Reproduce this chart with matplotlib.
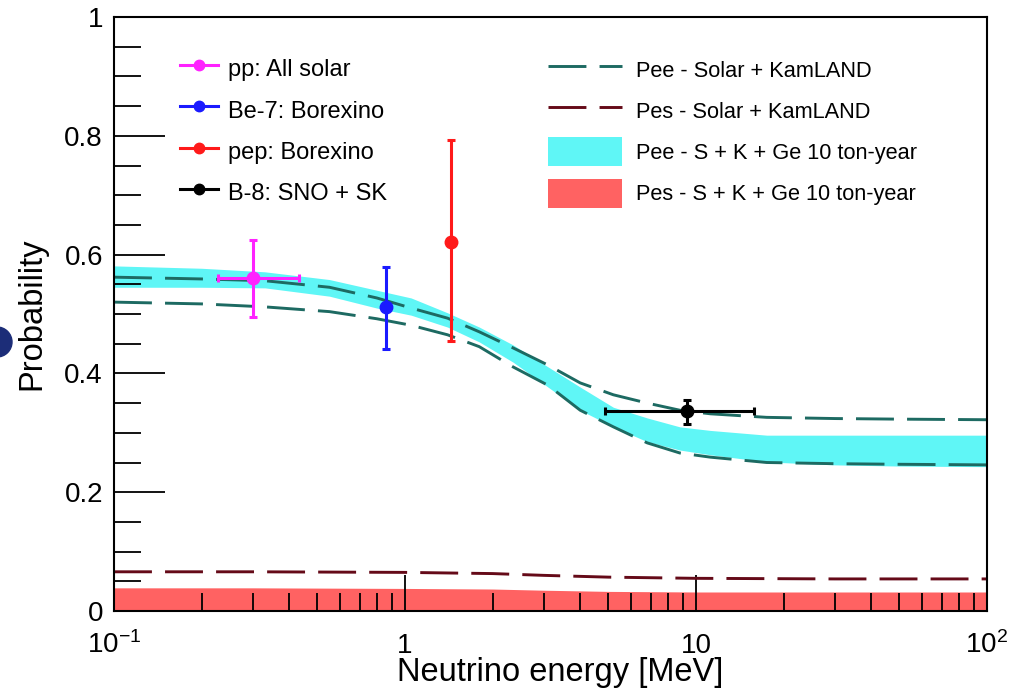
import matplotlib
matplotlib.use("Agg")
import matplotlib.pyplot as plt
import numpy as np
from matplotlib.patches import Ellipse
from matplotlib.ticker import FixedLocator, NullFormatter

plt.rcParams["font.family"] = ["Liberation Sans", "DejaVu Sans"]
plt.rcParams["mathtext.fontset"] = "custom"
plt.rcParams["mathtext.rm"] = "Liberation Sans"
plt.rcParams["mathtext.it"] = "Liberation Sans:italic"
plt.rcParams["mathtext.bf"] = "Liberation Sans:bold"

# survival probability curves vs neutrino energy [MeV]
energy = [0.1, 0.2, 0.33, 0.55, 0.8, 1.05, 1.4, 1.8, 2.35, 3.1, 4.0, 5.2, 6.8, 8.8, 11.2, 17.5, 30, 50, 100]
pee_sk_hi = [0.562, 0.559, 0.556, 0.545, 0.527, 0.510, 0.493, 0.470, 0.443, 0.414, 0.384, 0.364,
             0.350, 0.338, 0.332, 0.326, 0.324, 0.323, 0.322]
pee_sk_lo = [0.520, 0.517, 0.512, 0.504, 0.492, 0.481, 0.465, 0.445, 0.411, 0.380, 0.338, 0.310,
             0.283, 0.266, 0.259, 0.250, 0.248, 0.247, 0.246]
pee_ge_hi = [0.581, 0.577, 0.571, 0.558, 0.540, 0.527, 0.502, 0.478, 0.448, 0.411, 0.377, 0.343,
             0.325, 0.310, 0.304, 0.296, 0.296, 0.296, 0.296]
pee_ge_lo = [0.545, 0.545, 0.544, 0.530, 0.510, 0.498, 0.478, 0.453, 0.419, 0.377, 0.338, 0.310,
             0.285, 0.271, 0.263, 0.251, 0.246, 0.244, 0.243]

energy_s = [0.1, 0.3, 1.0, 2.0, 3.0, 5.0, 10, 30, 100]
pes_sk = [0.066, 0.066, 0.065, 0.063, 0.060, 0.057, 0.055, 0.054, 0.054]
pes_ge_hi = [0.039, 0.039, 0.038, 0.037, 0.035, 0.033, 0.032, 0.032, 0.032]

# measurements: energy, probability, and error bounds
meas_names = ["pp: All solar", "Be-7: Borexino", "pep: Borexino", "B-8: SNO + SK"]
meas_colors = ["#ff22ff", "#1a1aff", "#ff1a1a", "#000000"]
meas_e = [0.30, 0.862, 1.44, 9.3]
meas_e_lo = [0.228, 0.862, 1.44, 4.86]
meas_e_hi = [0.433, 0.862, 1.44, 15.8]
meas_p = [0.561, 0.512, 0.621, 0.337]
meas_p_lo = [0.495, 0.441, 0.455, 0.315]
meas_p_hi = [0.625, 0.579, 0.793, 0.355]

teal = "#1d6a62"
maroon = "#650a18"
cyan = "#5ff6f6"
salmon = "#ff6262"

fig = plt.figure(figsize=(10.27, 6.96), dpi=100)
ax = fig.add_axes([114 / 1027, 85 / 696, 873 / 1027, 594 / 696])

ax.fill_between(energy, pee_ge_lo, pee_ge_hi, color=cyan, lw=0, zorder=1)
ax.fill_between(energy_s, 0, pes_ge_hi, color=salmon, lw=0, zorder=1)
dash = (0, (13, 4.5))
l_pee, = ax.plot(energy, pee_sk_hi, color=teal, lw=2.1, ls=dash, zorder=2)
ax.plot(energy, pee_sk_lo, color=teal, lw=2.1, ls=dash, zorder=2)
l_pes, = ax.plot(energy_s, pes_sk, color=maroon, lw=2.1, ls=dash, zorder=2)

meas_handles = []
for i in range(len(meas_e)):
    xerr = [[meas_e[i] - meas_e_lo[i]], [meas_e_hi[i] - meas_e[i]]]
    yerr = [[meas_p[i] - meas_p_lo[i]], [meas_p_hi[i] - meas_p[i]]]
    if meas_e_lo[i] == meas_e_hi[i]:
        xerr = None
    ax.errorbar([meas_e[i]], [meas_p[i]], xerr=xerr, yerr=yerr, fmt="o",
                color=meas_colors[i], ms=9, elinewidth=2.2, capsize=3, capthick=2.2, zorder=4)
    h, = ax.plot([], [], "-o", color=meas_colors[i], lw=2.2, ms=7.5, label=meas_names[i])
    meas_handles.append(h)

ax.set_xscale("log")
ax.set_xlim(0.1, 100)
ax.set_ylim(0, 1)

ax.xaxis.set_major_locator(FixedLocator([0.1, 1, 10, 100]))
ax.set_xticklabels(["$10^{-1}$", "1", "10", "$10^{2}$"])
minor_x = [m * d for d in (0.1, 1, 10) for m in range(2, 10)]
ax.xaxis.set_minor_locator(FixedLocator(minor_x))
ax.xaxis.set_minor_formatter(NullFormatter())
ax.set_yticks([0, 0.2, 0.4, 0.6, 0.8, 1.0])
ax.set_yticklabels(["0", "0.2", "0.4", "0.6", "0.8", "1"])
ax.set_yticks(np.arange(0.05, 1.0, 0.1).round(2).tolist() + [0.1, 0.3, 0.5, 0.7, 0.9], minor=True)

ax.tick_params(axis="both", which="both", direction="in", top=False, right=False,
               width=1.3, color="black")
ax.tick_params(axis="x", which="major", length=26, labelsize=20, pad=30)
ax.tick_params(axis="x", which="minor", length=13)
ax.tick_params(axis="y", which="major", length=37, labelsize=20, pad=8)
ax.tick_params(axis="y", which="minor", length=19.5)
for lab in ax.get_xticklabels():
    lab.set_verticalalignment("baseline")
for sp in ax.spines.values():
    sp.set_linewidth(1.5)

ax.set_xlabel("Neutrino energy [MeV]", fontsize=23.5)
ax.xaxis.set_label_coords(0.511, -0.077)
ax.set_ylabel("Probability", fontsize=23.5)
ax.yaxis.set_label_coords(-0.076, 0.5)

leg1 = ax.legend(handles=meas_handles, loc="upper left", bbox_to_anchor=(0.0756, 0.939),
                 frameon=False, fontsize=17, borderpad=0, borderaxespad=0,
                 handlelength=1.6, handleheight=1.6, handletextpad=0.42, labelspacing=0.47)
ax.add_artist(leg1)
rect_cyan = plt.Rectangle((0, 0), 1, 1, color=cyan, lw=0)
rect_red = plt.Rectangle((0, 0), 1, 1, color=salmon, lw=0)
ax.legend(handles=[l_pee, l_pes, rect_cyan, rect_red],
          labels=["Pee - Solar + KamLAND", "Pes - Solar + KamLAND",
                  "Pee - S + K + Ge 10 ton-year", "Pes - S + K + Ge 10 ton-year"],
          loc="upper left", bbox_to_anchor=(0.497, 0.936), frameon=False, fontsize=15.7,
          borderpad=0, borderaxespad=0, handlelength=3.4, handleheight=1.67,
          handletextpad=0.63, labelspacing=0.56)

# navy disc clipped at the left edge
fig.add_artist(Ellipse((-3 / 1027, 1 - 342 / 696), 30 / 1027, 30 / 696,
                       transform=fig.transFigure, color="#1c2d78"))

fig.savefig("out.png", dpi=100)
